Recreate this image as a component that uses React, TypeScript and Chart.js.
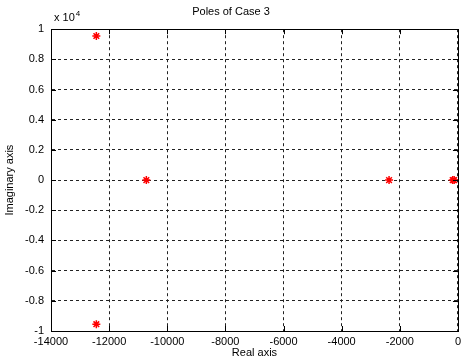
import React, { useEffect, useRef } from "react";
import { Chart, registerables } from "chart.js";

Chart.register(...registerables);

const realParts = [-12440, -12440, -10720, -2370, -180, -130];
const imagParts = [9550, -9550, 0, 0, 0, 0];
const xTicks = [-14000, -12000, -10000, -8000, -6000, -4000, -2000, 0];
const yTicks = [-10000, -8000, -6000, -4000, -2000, 0, 2000, 4000, 6000, 8000, 10000];
const titleText = "Poles of Case 3";
const xLabel = "Real axis";
const yLabel = "Imaginary axis";
const exponentBase = "x 10";
const exponentPower = "4";

const FONT = "'Liberation Sans', Arial, Helvetica, sans-serif";

const framePlugin = {
  id: "frame",
  afterDraw(chart: any) {
    const { ctx, chartArea: a, scales } = chart;
    ctx.save();
    ctx.strokeStyle = "#000";
    ctx.lineWidth = 1;
    ctx.setLineDash([]);
    ctx.strokeRect(Math.round(a.left) + 0.5, Math.round(a.top) + 0.5, Math.round(a.right - a.left), Math.round(a.bottom - a.top));
    const tl = 5;
    ctx.beginPath();
    xTicks.forEach((v) => {
      const x = Math.round(scales.x.getPixelForValue(v)) + 0.5;
      ctx.moveTo(x, a.bottom);
      ctx.lineTo(x, a.bottom - tl);
      ctx.moveTo(x, a.top);
      ctx.lineTo(x, a.top + tl);
    });
    yTicks.forEach((v) => {
      const y = Math.round(scales.y.getPixelForValue(v)) + 0.5;
      ctx.moveTo(a.left, y);
      ctx.lineTo(a.left + tl, y);
      ctx.moveTo(a.right, y);
      ctx.lineTo(a.right - tl, y);
    });
    ctx.stroke();
    ctx.fillStyle = "#000";
    ctx.font = `11px ${FONT}`;
    ctx.textBaseline = "alphabetic";
    ctx.textAlign = "left";
    const bx = a.left + 3;
    const by = a.top - 8;
    ctx.fillText(exponentBase, bx, by);
    const w = ctx.measureText(exponentBase).width;
    ctx.font = `8px ${FONT}`;
    ctx.fillText(exponentPower, bx + w + 1, by - 5);
    ctx.restore();
  },
};

export default function App() {
  const ref = useRef<HTMLCanvasElement | null>(null);
  useEffect(() => {
    if (!ref.current) return;
    Chart.defaults.color = "#000";
    Chart.defaults.font.family = FONT;
    Chart.defaults.font.size = 11;
    const chart = new Chart(ref.current, {
      type: "scatter",
      data: {
        datasets: [
          {
            data: realParts.map((x, i) => ({ x, y: imagParts[i] })),
            pointStyle: "star",
            pointRadius: 4,
            pointBorderColor: "#ff0000",
            pointBackgroundColor: "#ff0000",
            pointBorderWidth: 1.5,
            borderColor: "#ff0000",
            backgroundColor: "#ff0000",
          },
        ],
      },
      options: {
        responsive: false,
        animation: false,
        events: [],
        layout: { padding: { top: 0, right: 3, bottom: 0, left: 0 } },
        plugins: {
          legend: { display: false },
          tooltip: { enabled: false },
          title: {
            display: true,
            text: titleText,
            color: "#000",
            font: { size: 11, weight: "normal", family: FONT },
            padding: { top: 5, bottom: 11 },
          },
        },
        scales: {
          x: {
            type: "linear",
            min: -14000,
            max: 0,
            afterBuildTicks: (s: any) => {
              s.ticks = xTicks.map((v) => ({ value: v }));
            },
            afterFit: (s: any) => {
              s.height = 32;
            },
            ticks: {
              padding: 4,
              maxRotation: 0,
              autoSkip: false,
              color: "#000",
              font: { size: 11, family: FONT },
              callback: (v: any) => String(v),
            },
            grid: {
              drawTicks: false,
              color: "#222",
              lineWidth: 1,
            },
            border: { display: true, color: "#000", dash: [3, 3] },
            title: {
              display: true,
              text: xLabel,
              color: "#000",
              font: { size: 11, family: FONT },
              padding: { top: 0, bottom: 3 },
            },
          },
          y: {
            type: "linear",
            min: -10000,
            max: 10000,
            afterBuildTicks: (s: any) => {
              s.ticks = yTicks.map((v) => ({ value: v }));
            },
            afterFit: (s: any) => {
              s.width = 51;
            },
            ticks: {
              padding: 7,
              autoSkip: false,
              color: "#000",
              font: { size: 11, family: FONT },
              callback: (v: any) => {
                const n = Math.round(Number(v) / 1000) / 10;
                return String(n);
              },
            },
            grid: {
              drawTicks: false,
              color: "#222",
              lineWidth: 1,
            },
            border: { display: true, color: "#000", dash: [3, 3] },
            title: {
              display: true,
              text: yLabel,
              color: "#000",
              font: { size: 11, family: FONT },
              padding: { top: 3, bottom: 0 },
            },
          },
        },
      },
      plugins: [framePlugin],
    } as any);
    return () => chart.destroy();
  }, []);
  return (
    <div style={{ position: "fixed", left: 0, top: 0, width: 465, height: 363, background: "#fff" }}>
      <canvas ref={ref} width={465} height={363} />
    </div>
  );
}
